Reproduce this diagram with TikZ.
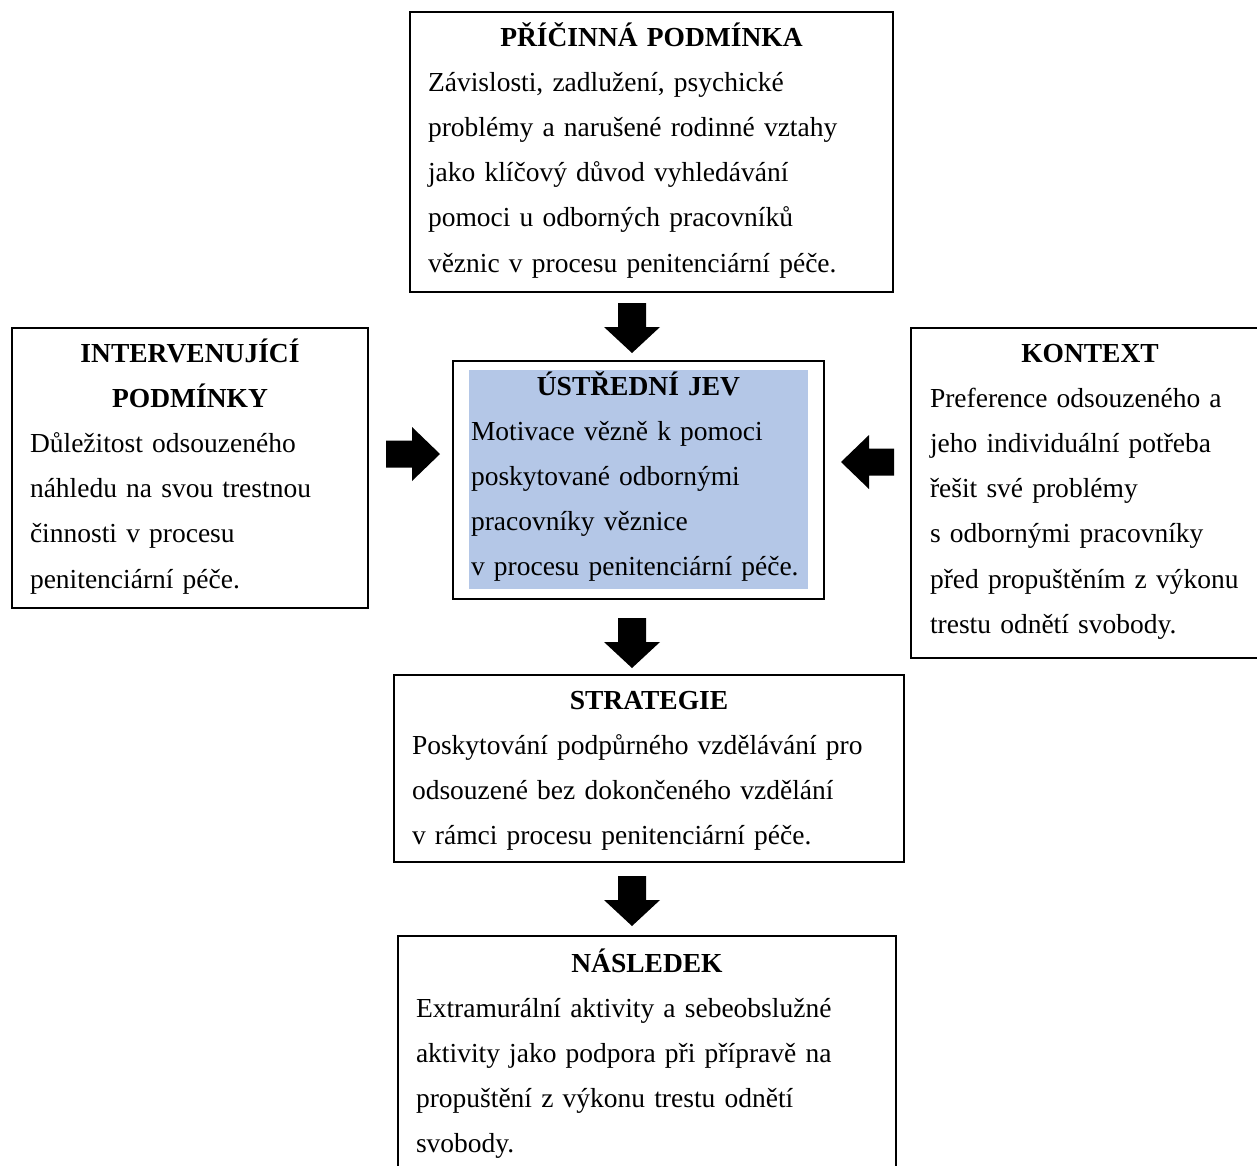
\documentclass[tikz,border=0pt]{standalone}
\usepackage{fontspec}
\setmainfont{Liberation Serif}
\usetikzlibrary{calc}
\definecolor{boxblue}{RGB}{180,199,231}
\newcommand\myline[1]{\hbox{#1}}
\newcommand\mytitle[1]{\hbox to\hsize{\hss\bfseries #1\hss}}
\newcommand\linestack[1]{\vtop{\baselineskip=45.2pt\lineskiplimit=0pt #1}}
\begin{document}
\begin{tikzpicture}[x=1pt,y=-1pt,
  frame/.style={draw=black, line width=2pt, inner sep=0pt, outer sep=0pt, anchor=north west},
  shade/.style={fill=boxblue, draw=none, inner sep=0pt, outer sep=0pt, anchor=north west},
  txt/.style={inner sep=0pt, outer sep=0pt, anchor=base west, font=\fontsize{27.5pt}{45.2pt}\selectfont},
  blockarrow/.style={fill=black, draw=none}]
\useasboundingbox (0,0) rectangle (1257,1165);
\clip (0,0) rectangle (1257,1165);

% boxes
\node[frame, minimum width=483pt, minimum height=280pt] (cause) at (410,12) {};
\node[frame, minimum width=356pt, minimum height=280pt] (interv) at (12,328) {};
\node[frame, minimum width=371pt, minimum height=238pt] (central) at (453,361) {};
\node[shade, minimum width=339pt, minimum height=219pt] (centralbg) at (469,370) {};
\node[frame, minimum width=358pt, minimum height=330pt] (context) at (911,328) {};
\node[frame, minimum width=510pt, minimum height=187pt] (strat) at (394,675) {};
\node[frame, minimum width=498pt, minimum height=250pt] (nasl) at (398,936) {};

% texts
\node[txt, text width=447pt] (causeT) at (428,46) {\linestack{%
\mytitle{PŘÍČINNÁ PODMÍNKA}%
\myline{Závislosti, zadlužení, psychické}%
\myline{problémy a narušené rodinné vztahy}%
\myline{jako klíčový důvod vyhledávání}%
\myline{pomoci u odborných pracovníků}%
\myline{věznic v procesu penitenciární péče.}}};

\node[txt, text width=320pt] (intervT) at (30,362) {\linestack{%
\mytitle{INTERVENUJÍCÍ}%
\mytitle{PODMÍNKY}%
\myline{Důležitost odsouzeného}%
\myline{náhledu na svou trestnou}%
\myline{činnosti v procesu}%
\myline{penitenciární péče.}}};

\node[txt, text width=335pt] (centralT) at (471,395) {\linestack{%
\mytitle{ÚSTŘEDNÍ JEV}%
\myline{Motivace vězně k pomoci}%
\myline{poskytované odbornými}%
\myline{pracovníky věznice}%
\myline{v procesu penitenciární péče.}}};

\node[txt, text width=320pt] (contextT) at (930,362) {\linestack{%
\mytitle{KONTEXT}%
\myline{Preference odsouzeného a}%
\myline{jeho individuální potřeba}%
\myline{řešit své problémy}%
\myline{s odbornými pracovníky}%
\myline{před propuštěním z výkonu}%
\myline{trestu odnětí svobody.}}};

\node[txt, text width=474pt] (stratT) at (412,709) {\linestack{%
\mytitle{STRATEGIE}%
\myline{Poskytování podpůrného vzdělávání pro}%
\myline{odsouzené bez dokončeného vzdělání}%
\myline{v rámci procesu penitenciární péče.}}};

\node[txt, text width=462pt] (naslT) at (416,972) {\linestack{%
\mytitle{NÁSLEDEK}%
\myline{Extramurální aktivity a sebeobslužné}%
\myline{aktivity jako podpora při přípravě na}%
\myline{propuštění z výkonu trestu odnětí}%
\myline{svobody.}}};

% arrow tips, taken from the boxes they point to
\coordinate (mx) at (632,0);
\coordinate (ly) at (0,454);
\coordinate (ry) at (0,462);
\coordinate (t1) at ($(central.north -| mx)+(0,-8)$);
\coordinate (t2) at ($(strat.north -| mx)+(0,-7)$);
\coordinate (t3) at ($(nasl.north -| mx)+(0,-10)$);
\coordinate (t4) at ($(central.west |- ly)+(-13,0)$);
\coordinate (t5) at ($(central.east |- ry)+(17,0)$);

% block arrows
\fill[blockarrow] (t1) -- ++(28,-26) -- ++(-14,0) -- ++(0,-24) -- ++(-28,0) -- ++(0,24) -- ++(-14,0) -- cycle;
\fill[blockarrow] (t2) -- ++(28,-26) -- ++(-14,0) -- ++(0,-24) -- ++(-28,0) -- ++(0,24) -- ++(-14,0) -- cycle;
\fill[blockarrow] (t3) -- ++(28,-26) -- ++(-14,0) -- ++(0,-24) -- ++(-28,0) -- ++(0,24) -- ++(-14,0) -- cycle;
\fill[blockarrow] (t4) -- ++(-28,-27) -- ++(0,13.5) -- ++(-26,0) -- ++(0,27) -- ++(26,0) -- ++(0,13.5) -- cycle;
\fill[blockarrow] (t5) -- ++(28,-27) -- ++(0,13.5) -- ++(25,0) -- ++(0,27) -- ++(-25,0) -- ++(0,13.5) -- cycle;
\end{tikzpicture}
\end{document}
